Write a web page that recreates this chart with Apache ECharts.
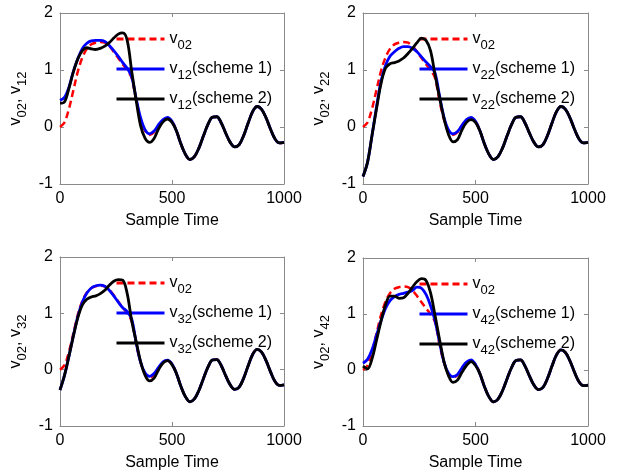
<!DOCTYPE html>
<html><head><meta charset="utf-8">
<script src="https://cdn.jsdelivr.net/npm/echarts@6/dist/echarts.min.js"></script>
<style>html,body{margin:0;padding:0;background:#fff}#c{width:618px;height:472px}</style>
</head><body><div id="c"></div>
<script>
// ---- data ----
const time = [0,20,40,60,80,100,120,140,160,180,200,220,240,260,280,300,320,340,360,380,400,420,440,460,480,500,
  520,540,560,580,600,620,640,660,680,700,720,740,760,780,800,820,840,860,880,900,920,940,960,980,1000];
// common oscillating tail (t = 520 ... 1000), all curves coincide there
const tail = [-0.07,-0.30,-0.48,-0.57,-0.52,-0.37,-0.16,0.04,0.17,0.18,0.07,-0.11,-0.27,-0.35,-0.31,-0.15,0.07,0.27,0.36,0.31,0.16,-0.04,-0.21,-0.28,-0.27];
// heads (t = 0 ... 500)
const v02Head = [0,0.08,0.32,0.65,0.98,1.22,1.37,1.45,1.48,1.49,1.48,1.42,1.32,1.21,1.10,1.00,0.86,0.46,0.13,-0.07,-0.14,-0.09,0.03,0.12,0.16,0.10];
const v12s1 = [0.47,0.52,0.70,0.98,1.20,1.38,1.47,1.51,1.52,1.52,1.50,1.43,1.34,1.24,1.13,1.03,0.88,0.50,0.16,-0.05,-0.12,-0.07,0.04,0.13,0.17,0.10];
const v12s2 = [0.42,0.44,0.68,0.97,1.20,1.34,1.39,1.37,1.36,1.38,1.42,1.48,1.56,1.63,1.65,1.52,0.98,0.47,0.02,-0.20,-0.27,-0.20,-0.03,0.09,0.14,0.08];
const v22s1 = [-0.87,-0.62,-0.15,0.35,0.80,1.08,1.24,1.32,1.38,1.41,1.41,1.38,1.32,1.23,1.14,1.06,0.95,0.55,0.17,-0.05,-0.12,-0.08,0.03,0.13,0.17,0.10];
const v22s2 = [-0.87,-0.62,-0.15,0.32,0.76,1.03,1.11,1.13,1.16,1.21,1.29,1.38,1.48,1.56,1.52,1.34,0.92,0.52,0.15,-0.13,-0.26,-0.22,-0.05,0.08,0.13,0.08];
const v32s1 = [-0.36,-0.10,0.24,0.61,0.95,1.20,1.36,1.45,1.49,1.50,1.48,1.41,1.31,1.20,1.10,1.03,0.90,0.48,0.13,-0.06,-0.12,-0.07,0.04,0.14,0.17,0.10];
const v32s2 = [-0.36,-0.10,0.24,0.60,0.93,1.15,1.25,1.29,1.31,1.35,1.41,1.50,1.57,1.60,1.59,1.35,0.87,0.50,0.14,-0.10,-0.20,-0.15,0.00,0.12,0.16,0.09];
const v42s1 = [0.12,0.19,0.36,0.62,0.88,1.10,1.24,1.31,1.35,1.37,1.39,1.42,1.48,1.46,1.35,1.15,0.88,0.50,0.14,-0.06,-0.12,-0.08,0.04,0.14,0.18,0.10];
const v42s2 = [0.07,0.02,0.20,0.53,0.87,1.16,1.32,1.32,1.28,1.29,1.37,1.48,1.58,1.63,1.60,1.38,0.98,0.55,0.15,-0.10,-0.22,-0.18,-0.04,0.08,0.15,0.08];
const xTicks = [0, 500, 1000];
const yTicks = [-1, 0, 1, 2];
const panelIds = ['12','22','32','42'];
const scheme1 = [v12s1, v22s1, v32s1, v42s1];
const scheme2 = [v12s2, v22s2, v32s2, v42s2];

// ---- layout ----
const boxes = [
  {left:60, top:13, width:224, height:171},
  {left:363, top:13, width:225, height:171},
  {left:60, top:257, width:224, height:171},
  {left:363, top:258, width:225, height:171}
];
const FONT = 'Liberation Sans, Arial, sans-serif';
const GRAY = '#8a8a8a';
const rich = {
  v: {fontSize:16, fontFamily:FONT, color:'#000'},
  s: {fontSize:13, fontFamily:FONT, color:'#000', padding:[13,0,0,0]}
};
function toPts(head){ const vals = head.concat(tail); return time.map((t,i)=>[t, vals[i]]); }

const grid=[], xAxis=[], yAxis=[], series=[], legend=[];
boxes.forEach((b,i)=>{
  const id = panelIds[i];
  grid.push({left:b.left, top:b.top, width:b.width, height:b.height, show:false});
  const common = {min:xTicks[0], max:xTicks[xTicks.length-1], interval:xTicks[1]-xTicks[0]};
  xAxis.push(Object.assign({type:'value', gridIndex:i, position:'bottom',
    axisLine:{show:true, onZero:false, lineStyle:{color:GRAY, width:1}},
    axisTick:{show:true, inside:true, length:4, lineStyle:{color:GRAY}},
    splitLine:{show:false},
    axisLabel:{color:'#000', fontSize:16, fontFamily:FONT, margin:7, formatter:v=>String(v)},
    name:'Sample Time', nameLocation:'middle', nameGap:29,
    nameTextStyle:{color:'#000', fontSize:16, fontFamily:FONT}}, common));
  xAxis.push(Object.assign({type:'value', gridIndex:i, position:'top',
    axisLine:{show:true, onZero:false, lineStyle:{color:GRAY, width:1}},
    axisTick:{show:true, inside:true, length:4, lineStyle:{color:GRAY}},
    splitLine:{show:false}, axisLabel:{show:false}}, common));
  const ycommon = {min:yTicks[0], max:yTicks[yTicks.length-1], interval:1};
  yAxis.push(Object.assign({type:'value', gridIndex:i, position:'left',
    axisLine:{show:true, onZero:false, lineStyle:{color:GRAY, width:1}},
    axisTick:{show:true, inside:true, length:4, lineStyle:{color:GRAY}},
    splitLine:{show:false},
    axisLabel:{color:'#000', fontSize:16, fontFamily:FONT, margin:7, formatter:v=>String(v)},
    name:'{v|v}{s|02}{v|, v}{s|'+id+'}', nameLocation:'middle', nameGap:31, nameRotate:90,
    nameTextStyle:{rich:rich}}, ycommon));
  yAxis.push(Object.assign({type:'value', gridIndex:i, position:'right',
    axisLine:{show:true, onZero:false, lineStyle:{color:GRAY, width:1}},
    axisTick:{show:true, inside:true, length:4, lineStyle:{color:GRAY}},
    splitLine:{show:false}, axisLabel:{show:false}}, ycommon));
  const names = ['v02#'+i, 's1#'+i, 's2#'+i];
  series.push({name:names[0], type:'line', xAxisIndex:2*i, yAxisIndex:2*i, data:toPts(v02Head),
    smooth:0.35, symbol:'none', lineStyle:{color:'#ff0000', width:2.5, type:[7,4]}, itemStyle:{color:'#ff0000'}, z:2});
  series.push({name:names[1], type:'line', xAxisIndex:2*i, yAxisIndex:2*i, data:toPts(scheme1[i]),
    smooth:0.35, symbol:'none', lineStyle:{color:'#0000ff', width:2.8}, itemStyle:{color:'#0000ff'}, z:3});
  series.push({name:names[2], type:'line', xAxisIndex:2*i, yAxisIndex:2*i, data:toPts(scheme2[i]),
    smooth:0.35, symbol:'none', lineStyle:{color:'#000000', width:2.8}, itemStyle:{color:'#000000'}, z:4});
  legend.push({data:names, orient:'vertical', left:b.left+55, top:b.top+18, padding:0,
    itemWidth:48, itemHeight:14, itemGap:9, selectedMode:false,
    itemStyle:{opacity:0}, lineStyle:{width:3},
    formatter:function(n){
      const k = n.split('#')[0];
      if(k==='v02') return '{v|v}{s|02}';
      return '{v|v}{s|'+id+'}{v|(scheme '+(k==='s1'?'1':'2')+')}';
    },
    textStyle:{rich:rich}});
});

const chart = echarts.init(document.getElementById('c'), null, {renderer:'canvas'});
chart.setOption({animation:false, backgroundColor:'#fff', grid, xAxis, yAxis, series, legend});
</script></body></html>
